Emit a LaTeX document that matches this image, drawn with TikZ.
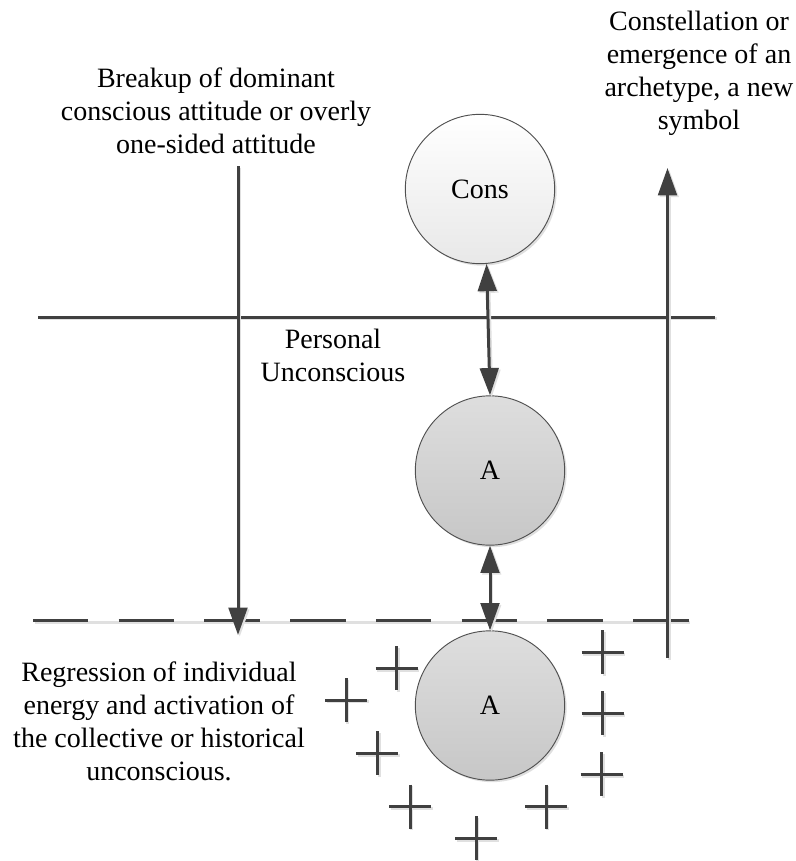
\documentclass[tikz,border=0pt]{standalone}
\usepackage{fontspec}
\setmainfont{Liberation Serif}
\usetikzlibrary{arrows.meta,shadows}
\definecolor{ink}{HTML}{404040}
\definecolor{rim}{HTML}{505050}
\begin{document}
\begin{tikzpicture}[x=0.75pt,y=-0.75pt,
  every node/.style={font=\fontsize{21}{24.75}\selectfont},
  lbl/.style={align=center, anchor=base},
  ball/.style={circle, draw=rim, line width=0.7pt, minimum size=112pt, inner sep=0pt,
    drop shadow={shadow xshift=1.5pt, shadow yshift=-1.5pt, fill=black!25, opacity=0.5}},
  consball/.style={ball, top color=white, bottom color=black!9},
  aball/.style={ball, top color=black!13, bottom color=black!22},
  soft/.style={preaction={draw=black!12, line width=2.25pt, transform canvas={shift={(1.3pt,-1.3pt)}}}},
  rule/.style={soft, draw=ink, line width=2.25pt},
  oneway/.style={rule, -{Triangle[length=20.5pt, width=14pt]}},
  twoway/.style={rule, {Triangle[length=20.5pt, width=14pt]}-{Triangle[length=20.5pt, width=14pt]}},
  gap/.style={dash pattern=on 41.6pt off 22.7pt}
]
\useasboundingbox (0,0) rectangle (796,861);

% layer boundaries
\coordinate (consL) at (38,317);
\coordinate (consR) at (715,317);
\coordinate (collL) at (33,620.5);
\coordinate (collR) at (688.5,620.5);
\draw[rule] (consL) -- (consR);
\draw[rule, gap] (collL) -- (collR);

% the three circles
\node[consball] (cons) at (480,189) {Cons};
\node[aball] (a1) at (490,470.5) {A};
\node[aball] (a2) at (490,705.5) {A};

% exchange between the levels
\draw[twoway] (cons.-85) -- (a1.north);
\draw[twoway] (a1.south) -- (a2.north);

% descending and rising movements
\coordinate (fallTop) at (238,166);
\coordinate (fallEnd) at (238,635);
\coordinate (riseBase) at (667.5,658);
\coordinate (riseTip) at (667.5,168);
\draw[oneway] (fallTop) -- (fallEnd);
\draw[oneway] (riseBase) -- (riseTip);

% activated energy around the archetype
\foreach \px/\py in {396.7/668.3, 346/700, 377.3/753.3, 410/806.7, 476/838.3,
                     546/806.7, 601.7/774.3, 602.7/713.3, 602.7/652.3}
  \draw[rule] (\px-21,\py) -- (\px+21,\py) (\px,\py-22) -- (\px,\py+22);

% labels (anchored at the baseline of their last line)
\node[lbl] (breakup) at (216,153) {Breakup of dominant\\conscious attitude or overly\\one-sided attitude};
\node[lbl] (constel) at (699,129.5) {Constellation or\\emergence of an\\archetype, a new\\symbol};
\node[lbl] (personal) at (333,381) {Personal\\Unconscious};
\node[lbl] (regress) at (159,780) {Regression of individual\\energy and activation of\\the collective or historical\\unconscious.};
\end{tikzpicture}
\end{document}
